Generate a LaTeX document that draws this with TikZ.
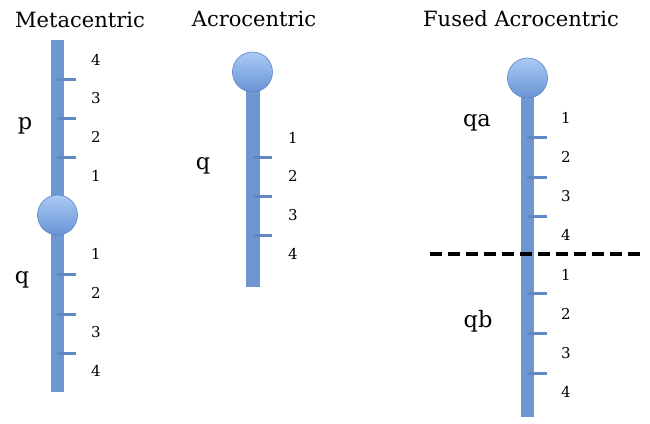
\documentclass[tikz,border=0pt]{standalone}
\usepackage{fontspec}
\setmainfont{DejaVu Serif}
\definecolor{barblue}{RGB}{111,151,207}
\definecolor{tickblue}{RGB}{95,137,197}
\definecolor{cenlight}{RGB}{170,202,245}
\definecolor{cendark}{RGB}{104,148,212}
\definecolor{cenedge}{RGB}{92,132,192}
\tikzset{
  chrom/.style={fill=barblue, draw=none},
  cen/.style={circle, minimum size=40pt, inner sep=0pt, draw=cenedge, line width=0.6pt, top color=cenlight, bottom color=cendark},
  band/.style={draw=tickblue, line width=3pt},
  ttl/.style={inner sep=0pt, font=\fontsize{21}{24}\selectfont},
  arm/.style={inner sep=0pt, font=\fontsize{22.5}{25}\selectfont},
  num/.style={inner sep=0pt, font=\fontsize{15}{17}\selectfont},
  fuse/.style={draw=black, line width=3.5pt, dash pattern=on 12pt off 6pt}
}
\begin{document}
\begin{tikzpicture}[x=1pt,y=-1pt]
\useasboundingbox (0,0) rectangle (650,423);
% titles
\node[ttl] (t1) at (80,20) {Metacentric};
\node[ttl] (t2) at (254,19) {Acrocentric};
\node[ttl] (t3) at (521,19) {Fused Acrocentric};
% Metacentric
\fill[chrom] (51,40) rectangle (64,392);
\draw[band] (57,79) -- (76,79);
\draw[band] (57,118) -- (76,118);
\draw[band] (57,157) -- (76,157);
\draw[band] (57,274) -- (76,274);
\draw[band] (57,314) -- (76,314);
\draw[band] (57,353) -- (76,353);
\node[cen] (c1) at (57.5,215) {};
\node[num] (m4) at (96,60) {4};
\node[num] (m3) at (96,98) {3};
\node[num] (m2) at (96,137) {2};
\node[num] (m1) at (96,176) {1};
\node[num] (n1) at (96,254) {1};
\node[num] (n2) at (96,293) {2};
\node[num] (n3) at (96,332) {3};
\node[num] (n4) at (96,371) {4};
\node[arm] (p1) at (25,126) {p};
\node[arm] (q1) at (22,280) {q};
% Acrocentric
\fill[chrom] (246,80) rectangle (260,287);
\draw[band] (253,157) -- (272,157);
\draw[band] (253,196) -- (272,196);
\draw[band] (253,235) -- (272,235);
\node[cen] (c2) at (252.5,72) {};
\node[num] (a1) at (293,138) {1};
\node[num] (a2) at (293,176) {2};
\node[num] (a3) at (293,215) {3};
\node[num] (a4) at (293,254) {4};
\node[arm] (q2) at (203,166) {q};
% Fused
\fill[chrom] (521,85) rectangle (534,417);
\draw[band] (527,137) -- (547,137);
\draw[band] (527,177) -- (547,177);
\draw[band] (527,216) -- (547,216);
\draw[band] (527,293) -- (547,293);
\draw[band] (527,333) -- (547,333);
\draw[band] (527,373) -- (547,373);
\node[cen] (c3) at (527.5,78) {};
\node[num] (f1) at (566,118) {1};
\node[num] (f2) at (566,157) {2};
\node[num] (f3) at (566,196) {3};
\node[num] (f4) at (566,235) {4};
\node[num] (g1) at (566,275) {1};
\node[num] (g2) at (566,314) {2};
\node[num] (g3) at (566,353) {3};
\node[num] (g4) at (566,392) {4};
\node[arm] (qa) at (477,123) {qa};
\node[arm] (qb) at (478,321) {qb};
\coordinate (dl) at (430,254);
\coordinate (dr) at (645,254);
\draw[fuse] (dl) -- (dr);
\end{tikzpicture}
\end{document}
